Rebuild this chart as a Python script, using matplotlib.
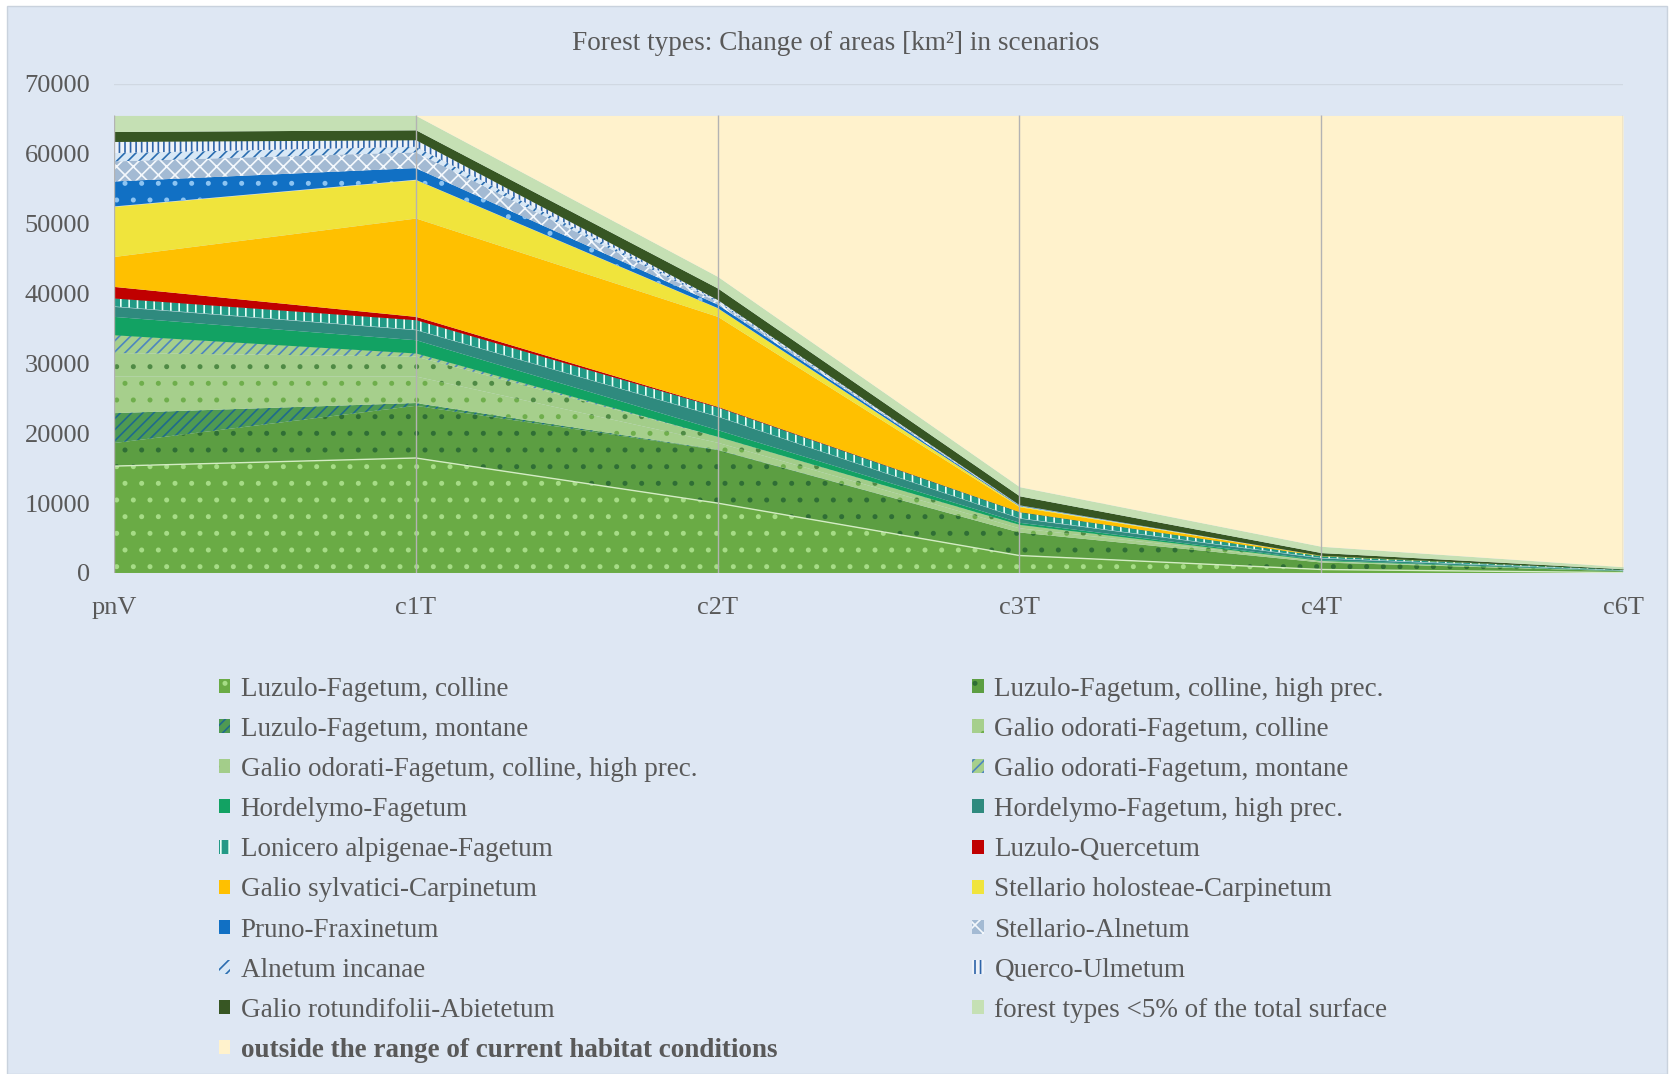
import numpy as np
import matplotlib
matplotlib.use("Agg")
import matplotlib.pyplot as plt
from matplotlib.patches import Rectangle

plt.rcParams['font.family'] = ['Liberation Serif', 'DejaVu Serif']
plt.rcParams['hatch.linewidth'] = 1.2

# scenarios on the x axis
scenarios = ['pnV', 'c1T', 'c2T', 'c3T', 'c4T', 'c6T']

# areas in km2 (stack order bottom -> top)
luzulo_colline = [15300, 16460, 10000, 2500, 500, 50]
luzulo_colline_hp = [3300, 7470, 7600, 3300, 1000, 200]
luzulo_montane = [4280, 400, 50, 0, 0, 0]
galio_od_colline = [5260, 3800, 1000, 600, 150, 30]
galio_od_colline_hp = [3350, 2860, 850, 500, 150, 30]
galio_od_montane = [2610, 500, 50, 50, 0, 0]
hordelymo = [2630, 1900, 960, 300, 100, 20]
hordelymo_hp = [1430, 1430, 1910, 600, 250, 50]
lonicero = [1200, 1430, 1330, 900, 300, 120]
luzulo_quercetum = [1660, 480, 100, 30, 0, 0]
galio_sylvatici = [4290, 14080, 12880, 700, 50, 0]
stellario_holosteae = [7160, 5480, 1200, 100, 20, 0]
pruno_fraxinetum = [3580, 1670, 500, 80, 0, 0]
stellario_alnetum = [2860, 2250, 350, 50, 0, 0]
alnetum_incanae = [1200, 800, 200, 20, 0, 0]
querco_ulmetum = [1660, 1000, 140, 20, 0, 0]
abietetum = [1430, 1430, 1670, 1300, 400, 100]
minor_types = [2300, 2060, 1660, 1300, 900, 300]
outside = [0, 0, 23050, 53150, 61680, 64600]

labels = [
    'Luzulo-Fagetum, colline', 'Luzulo-Fagetum, colline, high prec.',
    'Luzulo-Fagetum, montane', 'Galio odorati-Fagetum, colline',
    'Galio odorati-Fagetum, colline, high prec.', 'Galio odorati-Fagetum, montane',
    'Hordelymo-Fagetum', 'Hordelymo-Fagetum, high prec.',
    'Lonicero alpigenae-Fagetum', 'Luzulo-Quercetum',
    'Galio sylvatici-Carpinetum', 'Stellario holosteae-Carpinetum',
    'Pruno-Fraxinetum', 'Stellario-Alnetum',
    'Alnetum incanae', 'Querco-Ulmetum',
    'Galio rotundifolii-Abietetum', 'forest types <5% of the total surface',
    'outside the range of current habitat conditions',
]
series = [luzulo_colline, luzulo_colline_hp, luzulo_montane, galio_od_colline,
          galio_od_colline_hp, galio_od_montane, hordelymo, hordelymo_hp,
          lonicero, luzulo_quercetum, galio_sylvatici, stellario_holosteae,
          pruno_fraxinetum, stellario_alnetum, alnetum_incanae, querco_ulmetum,
          abietetum, minor_types, outside]

# (face colour, hatch, hatch colour)
styles = [
    ('#6aab45', '.', '#a6dc86'),
    ('#5c9e42', '.', '#2f6e35'),
    ('#4f9a52', '///', '#1f6b8c'),
    ('#a6cf8c', '.', '#6fae4c'),
    ('#a3cd8a', '.', '#4f8a45'),
    ('#a6cf8c', '///', '#4d86bf'),
    ('#12a263', None, None),
    ('#2f8a7e', None, None),
    ('#229a86', '||', '#e8fff6'),
    ('#c00000', None, None),
    ('#ffc000', None, None),
    ('#f0e43c', None, None),
    ('#1170c4', '.', '#8cc4f2'),
    ('#a3bad3', 'xx', '#f4f8fc'),
    ('#d8e8f6', '///', '#2a6db0'),
    ('#edf2f9', '|||', '#2e64a8'),
    ('#375623', None, None),
    ('#c5e0b4', None, None),
    ('#fff2cc', None, None),
]

bg = '#dee7f3'
txt = '#595959'

fig = plt.figure(figsize=(16.71, 10.74), dpi=100)
fig.patch.set_facecolor('white')
fig.add_artist(Rectangle((7 / 1671, 0), 1660 / 1671, 1068 / 1074,
                         transform=fig.transFigure, facecolor=bg,
                         edgecolor='#c9d2dd', linewidth=1, zorder=0))

ax = fig.add_axes([0.0682, 0.4665, 0.9031, 0.4553])
ax.set_facecolor('none')

x = np.arange(len(scenarios))
data = np.array(series, dtype=float)
tops = np.cumsum(data, axis=0)
bottoms = tops - data

handles = []
for i, (lab, (fc, hatch, hc)) in enumerate(zip(labels, styles)):
    h = ax.fill_between(x, bottoms[i], tops[i], facecolor=fc,
                        edgecolor=hc if hatch else fc, hatch=hatch,
                        linewidth=0, label=lab, zorder=2)
    handles.append(h)

# thin light line on top of the first series
ax.plot(x, tops[0], color='#d4ecc4', lw=1.0, zorder=3)

# drop lines at every scenario
ax.vlines(x, 0, tops[-1], color='#b3b3b3', lw=1.0, zorder=3)

ax.set_xlim(0, len(scenarios) - 1)
ax.set_ylim(0, 70000)
ax.set_yticks(np.arange(0, 70001, 10000))
ax.set_xticks(x)
ax.set_xticklabels(scenarios)
ax.yaxis.grid(True, color='#d0d8e2', lw=1.0)
ax.set_axisbelow(True)
for s in ax.spines.values():
    s.set_visible(False)
ax.tick_params(axis='both', length=0, labelsize=19, labelcolor=txt)
ax.tick_params(axis='y', pad=17)
ax.tick_params(axis='x', pad=17)

fig.text(0.5, 1 - 44 / 1074, 'Forest types: Change of areas [km²] in scenarios',
         ha='center', va='center', fontsize=19.6, color=txt)

# legend filled row by row like the original (two columns)
order = list(range(0, len(labels), 2)) + list(range(1, len(labels), 2))
leg = fig.legend([handles[i] for i in order], [labels[i] for i in order],
                 loc='upper left', bbox_to_anchor=(205 / 1671, 1 - 663 / 1074),
                 ncol=2, frameon=False, fontsize=19.5, borderpad=0,
                 handlelength=0.42, handleheight=0.42, handletextpad=0.4,
                 labelspacing=0.56, columnspacing=7.2, labelcolor=txt)
for t in leg.get_texts():
    if t.get_text().startswith('outside'):
        t.set_fontweight('bold')

fig.savefig('out.png', dpi=100, facecolor=fig.get_facecolor())
